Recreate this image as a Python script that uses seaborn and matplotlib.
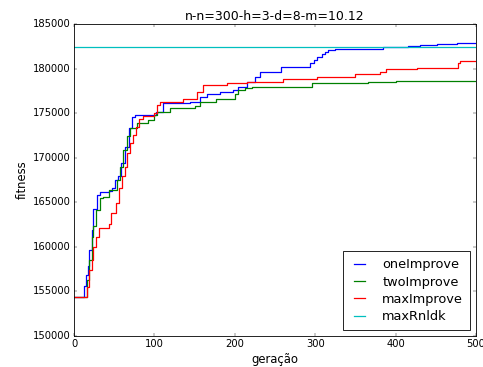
import matplotlib
matplotlib.use("Agg")
import matplotlib.pyplot as plt
import seaborn as sns
import pandas as pd

# Step breakpoints (generation, best fitness) for each heuristic
gen_one = [0, 12, 15, 17, 19, 22, 24, 28, 32, 44, 47, 51, 55, 59, 63, 68, 72, 76, 102, 111,
           144, 157, 165, 182, 198, 204, 215, 225, 231, 258, 294, 298, 302, 308, 312, 316,
           325, 384, 416, 430, 451, 476, 500]
fit_one = [154400, 155600, 156800, 157800, 159600, 161900, 164300, 165800, 166200, 166300,
           166600, 167500, 168000, 169400, 171200, 173300, 174600, 174800, 175150, 176100,
           176250, 176800, 177200, 177400, 177600, 177950, 178500, 179050, 179650, 180200,
           180600, 180950, 181330, 181630, 181890, 182080, 182200, 182460, 182570, 182680,
           182790, 182900, 182900]

gen_two = [0, 16, 19, 22, 24, 27, 32, 36, 44, 53, 57, 61, 66, 70, 78, 92, 99, 103, 119, 150,
           157, 177, 200, 204, 213, 221, 296, 366, 401, 500]
fit_two = [154400, 156300, 158500, 161100, 162300, 164100, 165450, 165600, 166400, 167500,
           169000, 170900, 172400, 173300, 173850, 174250, 174800, 175150, 175550, 175850,
           176200, 176600, 177200, 177600, 177800, 177970, 178350, 178530, 178640, 178640]

gen_max = [0, 16, 19, 22, 24, 27, 31, 43, 46, 52, 56, 60, 63, 66, 70, 73, 77, 81, 86, 99,
           103, 107, 136, 153, 161, 190, 215, 260, 302, 349, 381, 388, 427, 477, 480, 500]
fit_max = [154400, 155500, 157400, 158500, 160000, 161100, 162100, 162600, 163800, 164900,
           166600, 167900, 169000, 170500, 171600, 172600, 173500, 174300, 174700, 175050,
           175900, 176250, 176550, 177400, 178150, 178350, 178450, 178800, 179000, 179400,
           179580, 179950, 180100, 180600, 180880, 180880]

gen_rnd = [0, 500]
fit_rnd = [182400, 182400]

series_names = ["oneImprove", "twoImprove", "maxImprove", "maxRnldk"]
series_colors = [(0, 0, 1), (0, 0.5, 0), (1, 0, 0), (0, 0.75, 0.75)]

frames = []
for name, g, f in zip(series_names,
                      [gen_one, gen_two, gen_max, gen_rnd],
                      [fit_one, fit_two, fit_max, fit_rnd]):
    frames.append(pd.DataFrame({"geracao": g, "fitness": f, "serie": name}))
df = pd.concat(frames, ignore_index=True)

plt.style.use("classic")
fig = plt.figure(figsize=(483 / 60, 367 / 60), dpi=60, facecolor="white")
ax = fig.add_axes([74 / 483, 1 - 336 / 367, (476 - 74) / 483, (336 - 24) / 367])

sns.lineplot(data=df, x="geracao", y="fitness", hue="serie", hue_order=series_names,
             palette=dict(zip(series_names, series_colors)), estimator=None,
             drawstyle="steps-post", linewidth=1.5, ax=ax)

ax.set_xlim(0, 500)
ax.set_ylim(150000, 185000)
ax.set_xticks(range(0, 501, 100))
ax.set_yticks(range(150000, 185001, 5000))
ax.ticklabel_format(useOffset=False, style="plain")
ax.set_title("n-n=300-h=3-d=8-m=10.12", fontsize=15)
ax.set_xlabel("geração", fontsize=14)
ax.set_ylabel("fitness", fontsize=14)
ax.tick_params(labelsize=12)

handles, labels = ax.get_legend_handles_labels()
leg = ax.legend(handles, labels, loc="lower right", fontsize=15.5, frameon=True,
                fancybox=False, framealpha=1.0, edgecolor="black",
                handlelength=1.5, labelspacing=0.33, handletextpad=1.0,
                borderpad=0.55, borderaxespad=0.45)
for line in leg.get_lines():
    line.set_linewidth(1.5)

fig.savefig("out.png", dpi=60, facecolor="white")
